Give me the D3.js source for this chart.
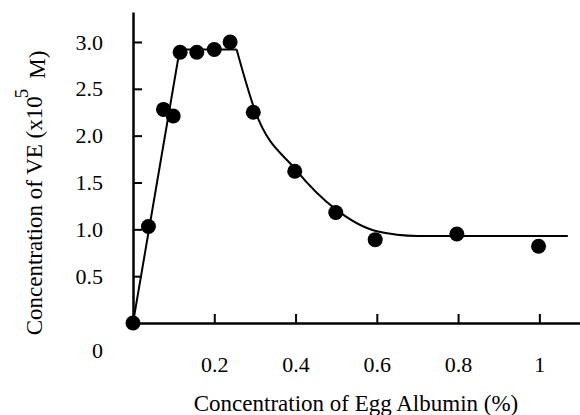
<!DOCTYPE html>
<html>
<head>
<meta charset="utf-8">
<script src="https://cdn.jsdelivr.net/npm/d3@7"></script>
<style>
  body { margin: 0; background: #fff; }
  svg { display: block; font-family: "Liberation Serif", "Times New Roman", serif; }
</style>
</head>
<body>
<svg width="580" height="415"></svg>
<script>
const svg = d3.select("svg");

// measured points: egg albumin (%) vs VE (x10^5 M)
const albumin = [0, 0.038, 0.075, 0.099, 0.116, 0.157, 0.2, 0.239, 0.296, 0.398, 0.499, 0.596, 0.797, 0.998];
const veConc = [0, 1.03, 2.28, 2.21, 2.89, 2.89, 2.92, 3.0, 2.25, 1.62, 1.18, 0.89, 0.95, 0.82];

// hand-drawn fit line: rising segment + plateau, then a smooth decay
const riseX = [0, 0.115, 0.255];
const riseY = [0, 2.92, 2.92];
const decayX = [0.255, 0.3, 0.4, 0.5, 0.6, 0.7, 0.8, 1.07];
const decayY = [2.92, 2.27, 1.64, 1.21, 0.98, 0.93, 0.93, 0.93];

const xTicks = [0.2, 0.4, 0.6, 0.8, 1];
const yTicks = [0.5, 1.0, 1.5, 2.0, 2.5, 3.0];

const x = d3.scaleLinear().domain([0, 1.1]).range([133, 580]);
const y = d3.scaleLinear().domain([0, 3.32]).range([323, 12]);

const xAxis = d3.axisBottom(x)
  .tickValues(xTicks)
  .tickFormat(d => d === 1 ? "1" : d.toFixed(1))
  .tickSizeInner(-9)
  .tickSizeOuter(0)
  .tickPadding(33);

const yAxis = d3.axisLeft(y)
  .tickValues(yTicks)
  .tickFormat(d3.format(".1f"))
  .tickSizeInner(-9)
  .tickSizeOuter(0)
  .tickPadding(30);

const gx = svg.append("g").attr("transform", `translate(0,${y(0)})`).call(xAxis);
const gy = svg.append("g").attr("transform", `translate(${x(0)},0)`).call(yAxis);

[gx, gy].forEach(g => {
  g.select(".domain").attr("stroke", "#000").attr("stroke-width", 2.5);
  g.selectAll(".tick line").attr("stroke", "#000").attr("stroke-width", 2);
  g.selectAll(".tick text")
    .attr("fill", "#000")
    .style("font-family", "Liberation Serif")
    .style("font-size", "22px");
});

// lone "0" label below the corner
svg.append("text")
  .attr("x", x(0) - 30)
  .attr("y", y(0) + 35)
  .attr("text-anchor", "end")
  .style("font-size", "22px")
  .text("0");

// fit line
const line = d3.line().x(d => x(d[0])).y(d => y(d[1]));
svg.append("path")
  .datum(riseX.map((v, i) => [v, riseY[i]]))
  .attr("fill", "none")
  .attr("stroke", "#000")
  .attr("stroke-width", 2)
  .attr("d", line);

svg.append("path")
  .datum(decayX.map((v, i) => [v, decayY[i]]))
  .attr("fill", "none")
  .attr("stroke", "#000")
  .attr("stroke-width", 2)
  .attr("d", line.curve(d3.curveMonotoneX));

// data points
svg.selectAll("circle.pt")
  .data(albumin.map((v, i) => [v, veConc[i]]))
  .enter().append("circle")
    .attr("class", "pt")
    .attr("cx", d => x(d[0]))
    .attr("cy", d => y(d[1]))
    .attr("r", 7.5)
    .attr("fill", "#000");

// axis titles
svg.append("text")
  .attr("x", 356)
  .attr("y", 411)
  .attr("text-anchor", "middle")
  .style("font-size", "23px")
  .text("Concentration of Egg Albumin (%)");

const yTitle = svg.append("text")
  .attr("transform", "translate(42,193) rotate(-90)")
  .attr("text-anchor", "middle")
  .style("font-size", "23px");
yTitle.append("tspan").text("Concentration of VE (x10");
yTitle.append("tspan").attr("dy", "-0.75em").attr("dx", "-2").style("font-size", "19px").text("5");
yTitle.append("tspan").attr("dy", "0.75em").attr("dx", "10").text("M)");
</script>
</body>
</html>
